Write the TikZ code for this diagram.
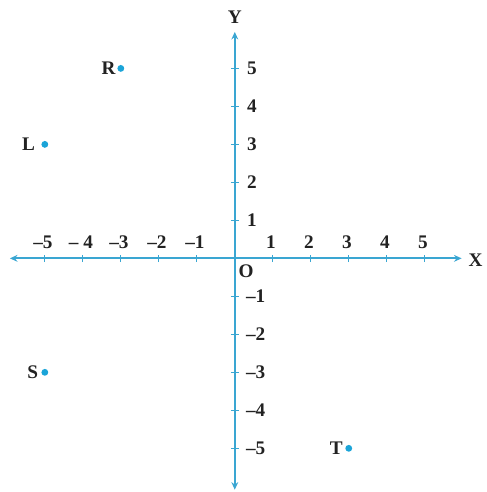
\documentclass[tikz,border=0pt]{standalone}
\usepackage{fontspec}
\setmainfont{Liberation Serif}
\usetikzlibrary{arrows.meta,positioning}
\definecolor{cpAxis}{HTML}{3AA6D2}
\definecolor{cpDot}{HTML}{1BA4D8}
\definecolor{cpText}{HTML}{222222}
\tikzset{
  axisline/.style={{Stealth[length=2mm,width=1.8mm]}-{Stealth[length=2mm,width=1.8mm]}, line width=1.3pt, cpAxis},
  tickmark/.style={line width=1pt, cpAxis},
  ticklabel/.style={font=\Large\bfseries, text=cpText, inner sep=1pt},
  axislabel/.style={font=\Large\bfseries, text=cpText, inner sep=1pt},
  dotpt/.style={circle, fill=cpDot, inner sep=0pt, minimum size=1.8mm},
  ptlabel/.style={font=\Large\bfseries, text=cpText, inner sep=1pt}
}
\begin{document}
\begin{tikzpicture}
  \useasboundingbox (-6.18,-6.15) rectangle (6.63,6.80);
  % axes
  \coordinate (xl) at (-5.92,0);
  \coordinate (xr) at (5.97,0);
  \coordinate (yb) at (0,-6.09);
  \coordinate (yt) at (0,5.96);
  \draw[axisline] (xl) -- (xr);
  \draw[axisline] (yb) -- (yt);
  \node[axislabel] (X) at (6.34,-0.05) {X};
  \node[axislabel] (Y) at (0,6.36) {Y};
  \node[axislabel] (O) at (0.3,-0.33) {O};
  % ticks on x
  \foreach \i in {-5,...,-1,1,2,...,5}{
    \draw[tickmark] (\i,-0.1) -- (\i,0.1);
  }
  \foreach \i/\lab in {-5/{--5},-4/{-- 4},-3/{--3},-2/{--2},-1/{--1},1/1,2/2,3/3,4/4,5/5}{
    \node[ticklabel] (xt\i) at (\i-0.05,0.42) {\lab};
  }
  % ticks on y
  \foreach \i in {-5,...,-1,1,2,...,5}{
    \draw[tickmark] (-0.1,\i) -- (0.1,\i);
  }
  \foreach \i/\lab in {5/5,4/4,3/3,2/2,1/1}{
    \node[ticklabel] (yt\i) at (0.45,\i) {\lab};
  }
  \foreach \i/\lab in {-1/{--1},-2/{--2},-3/{--3},-4/{--4},-5/{--5}}{
    \node[ticklabel] (yt\i) at (0.55,\i) {\lab};
  }
  % points
  \foreach \n/\x/\y/\gap in {R/-3/5/0.0, L/-5/3/0.12, S/-5/-3/0.04, T/3/-5/0.02}{
    \node[dotpt] (p\n) at (\x,\y) {};
    \node[ptlabel, left=\gap of p\n] (l\n) {\n};
  }
\end{tikzpicture}
\end{document}
